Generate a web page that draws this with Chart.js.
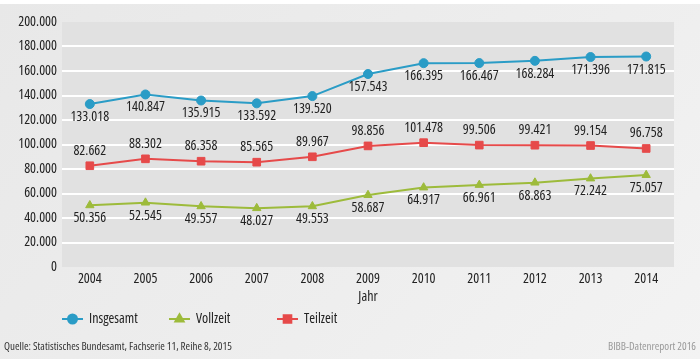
<!DOCTYPE html>
<html>
<head>
<meta charset="utf-8">
<script src="https://cdn.jsdelivr.net/npm/chart.js@4/dist/chart.umd.min.js"></script>
<style>
html,body{margin:0;padding:0;}
body{width:700px;height:362px;overflow:hidden;
background:linear-gradient(to bottom,#ffffff 0,#ffffff 4px,transparent 4px,transparent 359px,#ffffff 359px),linear-gradient(135deg,#e8e8e8 0%,#eeeeee 60%,#f3f3f3 100%);}
#wrap{position:absolute;left:0;top:0;width:700px;height:362px;}
</style>
</head>
<body>
<div id="wrap"><canvas id="c" width="700" height="362"></canvas></div>
<script>
const years = ['2004','2005','2006','2007','2008','2009','2010','2011','2012','2013','2014'];
const insgesamt = [133018,140847,135915,133592,139520,157543,166395,166467,168284,171396,171815];
const vollzeit  = [50356,52545,49557,48027,49553,58687,64917,66961,68863,72242,75057];
const teilzeit  = [82662,88302,86358,85565,89967,98856,101478,99506,99421,99154,96758];
const seriesNames = ['Insgesamt','Vollzeit','Teilzeit'];
const yTicks = [0,20000,40000,60000,80000,100000,120000,140000,160000,180000,200000];
const xTitle = 'Jahr';
const sourceText = 'Quelle: Statistisches Bundesamt, Fachserie 11, Reihe 8, 2015';
const creditText = 'BIBB-Datenreport 2016';

const FAM = "'Open Sans','DejaVu Sans Condensed',sans-serif";
const CF = (px)=> '500 condensed ' + px + 'px ' + FAM;
const COLORS = ['#2a9cc6','#9dbb3b','#e64a4a'];
const STYLES = ['circle','triangle','rect'];
const RADII = [4.5,4.8,5.4];
const LABEL_OFF = [13,13,-15];

function fmt(v){
  const s = Math.round(v).toString();
  return s.replace(/\B(?=(\d{3})+(?!\d))/g,'.');
}

const plotBg = {
  id:'plotBg',
  beforeDraw(chart){
    const {ctx, chartArea:a} = chart;
    ctx.save();
    ctx.fillStyle = '#e1e1e1';
    ctx.fillRect(a.left, a.top, a.right-a.left, a.bottom-a.top);
    ctx.restore();
  }
};

const dataLabels = {
  id:'dataLabels',
  afterDatasetsDraw(chart){
    const ctx = chart.ctx;
    ctx.save();
    ctx.font = CF(14);
    ctx.fillStyle = '#222';
    ctx.textAlign = 'center';
    ctx.textBaseline = 'middle';
    chart.data.datasets.forEach((ds,i)=>{
      const meta = chart.getDatasetMeta(i);
      meta.data.forEach((pt,j)=>{
        ctx.fillText(fmt(ds.data[j]), pt.x, pt.y + LABEL_OFF[i]);
      });
    });
    ctx.restore();
  }
};

const extras = {
  id:'extras',
  afterDraw(chart){
    const ctx = chart.ctx;
    const a = chart.chartArea;
    ctx.save();
    ctx.font = CF(14);
    ctx.fillStyle = '#222';
    ctx.textAlign = 'center';
    ctx.textBaseline = 'middle';
    ctx.fillText(xTitle, (a.left+a.right)/2, 297);
    const legX = [62,169,277];
    const legY = 319;
    seriesNames.forEach((name,i)=>{
      const x0 = legX[i];
      ctx.strokeStyle = COLORS[i];
      ctx.lineWidth = 2;
      ctx.beginPath();
      ctx.moveTo(x0, legY); ctx.lineTo(x0+21, legY); ctx.stroke();
      ctx.fillStyle = COLORS[i];
      Chart.helpers.drawPoint(ctx, {pointStyle:STYLES[i], radius:RADII[i], borderWidth:1}, x0+10.5, legY);
      ctx.fillStyle = '#222';
      ctx.textAlign = 'left';
      ctx.font = CF(14);
      ctx.fillText(name, x0+27, legY);
    });
    ctx.font = CF(11);
    ctx.fillStyle = '#333';
    ctx.textAlign = 'left';
    ctx.fillText(sourceText, 4, 347);
    ctx.fillStyle = '#9a9a9a';
    ctx.textAlign = 'right';
    ctx.fillText(creditText, 696, 347);
    ctx.restore();
  }
};

function mk(data,i){
  return {
    label: seriesNames[i], data,
    borderColor: COLORS[i], backgroundColor: COLORS[i],
    pointBackgroundColor: COLORS[i], pointBorderColor: COLORS[i],
    pointStyle: STYLES[i], pointRadius: RADII[i], pointBorderWidth: 1,
    borderWidth: 2, tension: 0, fill:false
  };
}

const tickFont = {family:FAM, size:14, weight:'500 condensed'};

new Chart(document.getElementById('c'), {
  type:'line',
  data:{ labels: years, datasets:[mk(insgesamt,0), mk(vollzeit,1), mk(teilzeit,2)] },
  plugins:[plotBg, dataLabels, extras],
  options:{
    responsive:false, animation:false, devicePixelRatio:1,
    layout:{padding:{left:0,right:26,top:22,bottom:0}},
    plugins:{legend:{display:false}, tooltip:{enabled:false}},
    scales:{
      x:{
        offset:true,
        grid:{display:false, drawTicks:false},
        border:{display:false},
        ticks:{font:tickFont, color:'#222', padding:4, maxRotation:0},
        afterFit(s){ s.height = 95; }
      },
      y:{
        min:0, max:200000,
        afterBuildTicks(s){ s.ticks = yTicks.map(v=>({value:v})); },
        grid:{ drawTicks:false, lineWidth:2, color:(c)=> (c.tick && (c.tick.value===0 || c.tick.value===200000)) ? 'rgba(0,0,0,0)' : '#ffffff' },
        border:{display:false},
        ticks:{font:tickFont, color:'#222', padding:5, callback:(v)=>fmt(v)},
        afterFit(s){ s.width = 62; }
      }
    }
  }
});
</script>
</body>
</html>
